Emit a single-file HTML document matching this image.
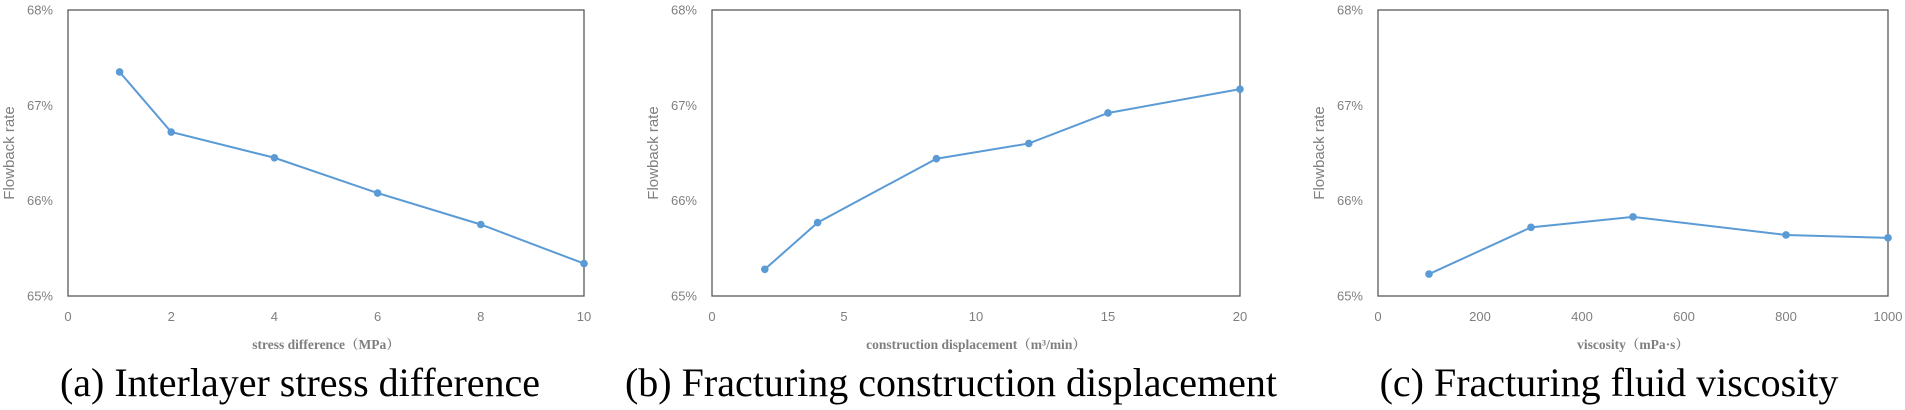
<!DOCTYPE html>
<html><head><meta charset="utf-8"><style>
html,body{margin:0;padding:0;background:#fff;width:1905px;height:410px;overflow:hidden}
svg{display:block}
</style></head><body>
<svg id="fig" width="1905" height="410" xmlns="http://www.w3.org/2000/svg"></svg>
<script>
const aX=[1,2,4,6,8,10];
const aY=[67.35,66.72,66.45,66.08,65.75,65.34];
const aTicks=[0,2,4,6,8,10];
const bX=[2,4,8.5,12,15,20];
const bY=[65.28,65.77,66.44,66.60,66.92,67.17];
const bTicks=[0,5,10,15,20];
const cX=[100,300,500,800,1000];
const cY=[65.23,65.72,65.83,65.64,65.61];
const cTicks=[0,200,400,600,800,1000];
const yTicks=[65,66,67,68];

const NS='http://www.w3.org/2000/svg';
const svg=document.getElementById('fig');
function mk(tag,attrs,parent){const e=document.createElementNS(NS,tag);for(const k in attrs)e.setAttribute(k,attrs[k]);(parent||svg).appendChild(e);return e;}

const panels=[
 {id:'a',L:68,R:584,xmax:10,xs:aX,ys:aY,ticks:aTicks,xt:'stress difference（MPa）',cap:'(a) Interlayer stress difference',capx:300},
 {id:'b',L:712,R:1240,xmax:20,xs:bX,ys:bY,ticks:bTicks,xt:'construction displacement（m³/min）',cap:'(b) Fracturing construction displacement',capx:951},
 {id:'c',L:1378,R:1888,xmax:1000,xs:cX,ys:cY,ticks:cTicks,xt:'viscosity（mPa·s）',cap:'(c) Fracturing fluid viscosity',capx:1609}
];
const T=10,B=296;
panels.forEach(p=>{
 const g=mk('g',{});
 
 
 const sx=v=>p.L+(v/p.xmax)*(p.R-p.L);
 const sy=v=>B-(v-65)/3*(B-T);
 const frame=mk('rect',{x:p.L,y:T,width:p.R-p.L,height:B-T,fill:'none',stroke:'#595959','stroke-width':1.3},g);
 
 
 yTicks.forEach(v=>{
  const t=mk('text',{x:p.L-15,y:sy(v)+4.5,'text-anchor':'end','font-family':'Liberation Sans, sans-serif','font-size':13,fill:'#7f7f7f'},g);
  t.textContent=v+'%';
  
  
 });
 p.ticks.forEach(v=>{
  const t=mk('text',{x:sx(v),y:321,'text-anchor':'middle','font-family':'Liberation Sans, sans-serif','font-size':13,fill:'#7f7f7f'},g);
  t.textContent=v;
  
  
 });
 const yt=mk('text',{x:0,y:0,'text-anchor':'middle','font-family':'Liberation Sans, sans-serif','font-size':15,fill:'#7f7f7f'},g);
 yt.setAttribute('transform',`translate(${p.L-54},153) rotate(-90)`);
 yt.textContent='Flowback rate';
 
 
 const xt=mk('text',{x:(p.L+p.R)/2,y:349,'text-anchor':'middle','font-family':'Liberation Serif, "Noto Serif CJK SC", serif','font-size':13.5,'font-weight':'bold',fill:'#7f7f7f'},g);
 xt.textContent=p.xt;
 
 
 const pts=p.xs.map((x,i)=>sx(x)+','+sy(p.ys[i])).join(' ');
 const line=mk('polyline',{points:pts,fill:'none',stroke:'#5b9bd5','stroke-width':2},g);
 
 
 p.xs.forEach((x,i)=>{
  const c=mk('circle',{cx:sx(x),cy:sy(p.ys[i]),r:3.8,fill:'#5b9bd5'},g);
  
  
 });
 const cap=mk('text',{x:p.capx,y:396,'text-anchor':'middle','font-family':'Liberation Serif, serif','font-size':40,fill:'#000'},g);
 cap.textContent=p.cap;
 
 
});
</script>
</body></html>
